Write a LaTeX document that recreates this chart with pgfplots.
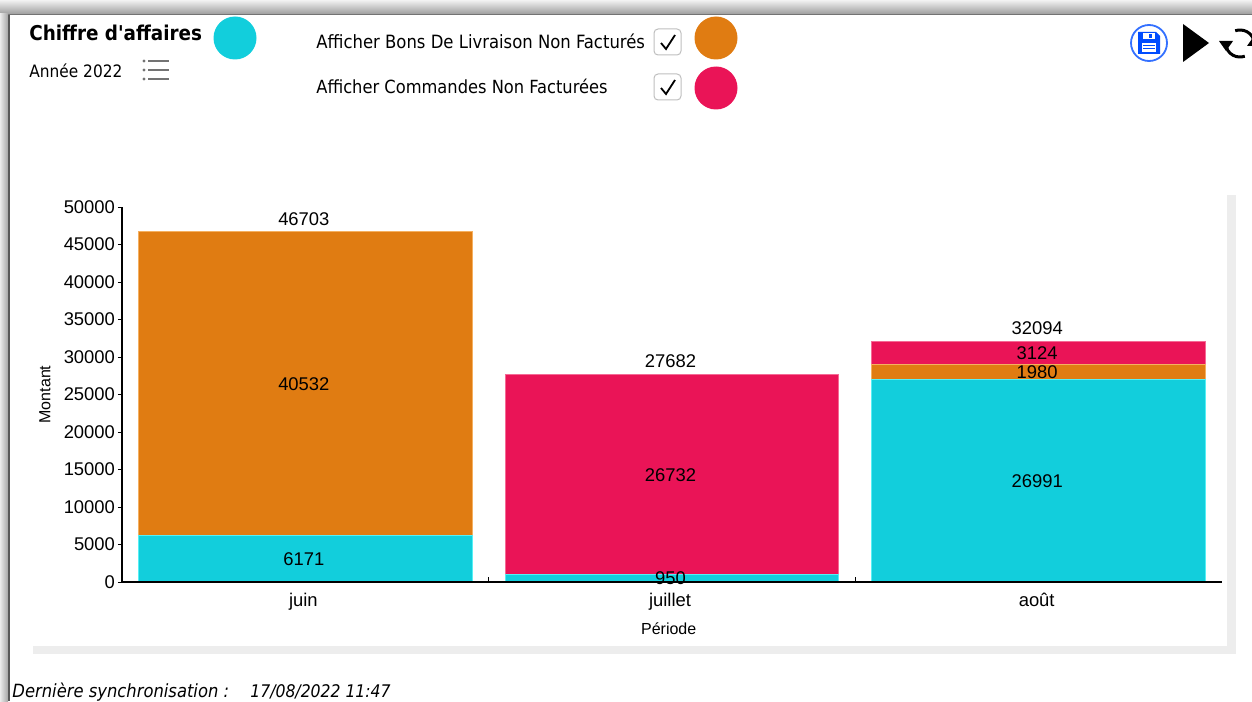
\documentclass[border=0pt]{standalone}
\usepackage{pgfplots}
\pgfplotsset{compat=1.18}
\usepackage{fontspec}
\setmainfont{Liberation Sans}
\newfontfamily\ui{DejaVu Sans Condensed}
\definecolor{cy}{HTML}{12CEDC}
\definecolor{cyE}{HTML}{55F0F5}
\definecolor{og}{HTML}{E07C12}
\definecolor{ogE}{HTML}{F5B060}
\definecolor{pk}{HTML}{EA1457}
\definecolor{pkE}{HTML}{F56A95}
\begin{document}
\begin{tikzpicture}
\path[use as bounding box] (0,0) rectangle (626pt,-350.5pt);
\begin{scope}[x=0.5pt,y=-0.5pt]
  % window chrome
  \shade[top color=black!5,bottom color=black!38] (0,0) rectangle (1252,14);
  \fill[black!55] (0,14) rectangle (1252,15.5);
  \shade[left color=black!8,right color=black!35] (0,14) rectangle (8,701);
  \fill[black!65] (8,15) rectangle (10,701);
  \fill[black!7] (1227,195) rectangle (1236,654);
  \fill[black!7] (33,646) rectangle (1236,654);
  % header
  \node[anchor=west,inner sep=0,font=\ui\bfseries\fontsize{10.2}{13}\selectfont] at (29,33) {Chiffre d'affaires};
  \node[anchor=west,inner sep=0,font=\ui\fontsize{8.55}{11}\selectfont] at (29,71) {Année 2022};
  \node[anchor=west,inner sep=0,font=\ui\fontsize{9.15}{11}\selectfont] at (316,41) {Afficher Bons De Livraison Non Facturés};
  \node[anchor=west,inner sep=0,font=\ui\fontsize{9.05}{11}\selectfont] at (316,86) {Afficher Commandes Non Facturées};
  \fill[cy] (235,38) ellipse [x radius=21.5,y radius=21.5];
  \fill[og] (716,38) ellipse [x radius=21.5,y radius=21.5];
  \fill[pk] (716,88) ellipse [x radius=21.5,y radius=21.5];
  % list icon
  \foreach \yy in {61,70,79}{
    \draw[black!55,line width=0.7pt] (148,\yy) -- (169,\yy);
    \fill[black!55] (144,\yy) circle (1.6);
  }
  % checkboxes
  \foreach \yy in {42,87}{
    \draw[black!25,fill=white,rounded corners=2pt,line width=0.5pt] (654,\yy-13) rectangle (681,\yy+13);
    \draw[black,line width=0.9pt] (661,\yy+1) -- (666,\yy+7) -- (675,\yy-7);
  }
  % save icon
  \draw[blue!70!cyan!80!white,line width=0.9pt,fill=white] (1149,43) circle (18);
  \fill[blue!70!cyan] (1138,32) -- (1156,32) -- (1160,36) -- (1160,54) -- (1138,54) -- cycle;
  \fill[white] (1143,33) rectangle (1155,39);
  \fill[blue!70!cyan] (1149,34) rectangle (1152,38);
  \fill[white] (1142,43) rectangle (1156,52);
  \draw[blue!70!cyan,line width=0.5pt] (1143,46) -- (1155,46) (1143,49) -- (1155,49);
  % play
  \fill[black] (1183,24) -- (1209,43) -- (1183,62) -- cycle;
  % refresh
  \begin{scope}
    \clip (1215,20) rectangle (1252,70);
    \draw[black,line width=1.5pt] (1226,44) arc[start angle=180,end angle=70,x radius=14,y radius=13];
    \fill[black] (1219,41) -- (1233,41) -- (1226,51) -- cycle;
    \draw[black,line width=1.5pt] (1254,43) arc[start angle=0,end angle=-110,x radius=14,y radius=13];
    \fill[black] (1247,46) -- (1261,46) -- (1254,36) -- cycle;
  \end{scope}
  % footer
  \node[anchor=west,inner sep=0,font=\ui\itshape\fontsize{9.1}{11}\selectfont] at (12,692) {Dernière synchronisation :};
  \node[anchor=west,inner sep=0,font=\ui\itshape\fontsize{8.7}{11}\selectfont] at (250,692) {17/08/2022 11:47};
\end{scope}
\begin{axis}[
  at={(61pt,-291pt)},anchor=south west,
  scale only axis,width=550pt,height=187.5pt,
  xmin=-0.5,xmax=2.5,ymin=0,ymax=50000,
  axis lines=left,axis line style={-,black,line width=0.6pt},
  axis on top,
  ybar stacked,bar width=0.91,
  xtick={0,1,2},xticklabels={juin,juillet,août},
  minor xtick={0.5,1.5},
  ytick={0,5000,...,50000},
  major tick length=2pt,minor tick length=2.5pt,
  major x tick style={draw=none},
  minor x tick style={black,line width=0.5pt},
  y tick style={black,line width=0.5pt},
  xtick align=inside,ytick align=outside,
  tick label style={font=\fontsize{9.2}{11}\selectfont},
  /pgf/number format/assume math mode=true,
  scaled y ticks=false,
  y tick label style={/pgf/number format/fixed,/pgf/number format/set thousands separator={},xshift=2pt},
  xlabel={Période},ylabel={Montant},
  every axis x label/.style={at={(axis description cs:0.497,-0.125)},anchor=center,font=\fontsize{8}{10}\selectfont},
  every axis y label/.style={at={(axis description cs:-0.07,0.5)},anchor=center,rotate=90,font=\fontsize{8}{10}\selectfont},
  xticklabel style={yshift=-2pt,xshift=-1pt},
  clip=false,
]
\addplot[fill=cy,draw=cyE,line width=0.5pt] coordinates {(0,6171) (1,950) (2,26991)};
\addplot[fill=og,draw=ogE,line width=0.5pt] coordinates {(0,40532) (1,0) (2,1980)};
\addplot[fill=pk,draw=pkE,line width=0.5pt] coordinates {(0,0) (1,26732) (2,3124)};
\end{axis}
\begin{axis}[
  at={(61pt,-291pt)},anchor=south west,
  scale only axis,width=550pt,height=187.5pt,
  xmin=-0.5,xmax=2.5,ymin=0,ymax=50000,
  hide axis,clip=false,
]
\addplot[only marks,mark=none,point meta=explicit symbolic,
  nodes near coords,
  every node near coord/.style={anchor=center,inner sep=0,xshift=-0.75pt,font=\fontsize{9.2}{11}\selectfont}]
  coordinates {
  (0,3085)[6171] (0,26400)[40532]
  (1,475)[950] (1,14300)[26732]
  (2,13500)[26991] (2,27980)[1980] (2,30530)[3124]};
\addplot[only marks,mark=none,point meta=explicit symbolic,
  nodes near coords,
  every node near coord/.style={anchor=south,inner sep=0,yshift=3pt,xshift=-0.75pt,font=\fontsize{9.2}{11}\selectfont}]
  coordinates {(0,46703)[46703] (1,27682)[27682] (2,32094)[32094]};
\end{axis}
\end{tikzpicture}
\end{document}
